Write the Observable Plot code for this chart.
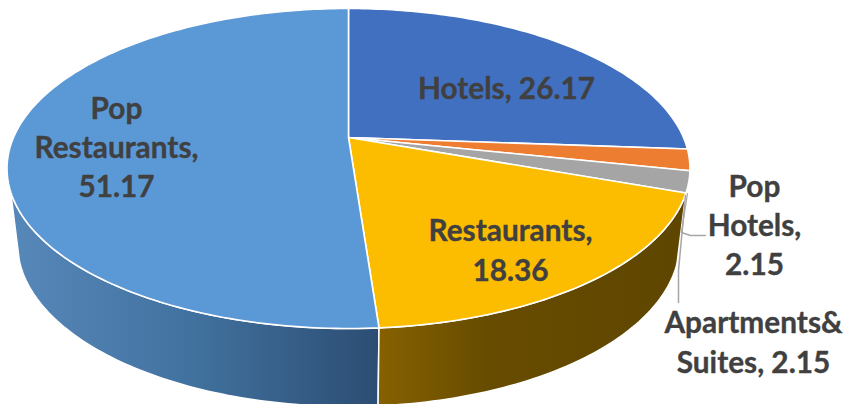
<!DOCTYPE html>
<html>
<head>
<meta charset="utf-8">
<script src="https://cdn.jsdelivr.net/npm/d3@7"></script>
<script src="https://cdn.jsdelivr.net/npm/@observablehq/plot@0.6"></script>
<style>html,body{margin:0;padding:0;background:#fff;overflow:hidden}svg{display:block}</style>
</head>
<body>
<div id="chart"></div>
<script>
const categories = ["Hotels", "Pop Hotels", "Apartments& Suites", "Restaurants", "Pop Restaurants"];
const values = [26.17, 2.15, 2.15, 18.36, 51.17];
const colors = ["#4270c0", "#ed7d31", "#a5a5a5", "#fcbd00", "#5b98d6"];
const labelTexts = ["Hotels, 26.17", "Pop\nHotels,\n2.15", "Apartments&\nSuites, 2.15", "Restaurants,\n18.36", "Pop\nRestaurants,\n51.17"];
const labelX = [506, 754, 753, 510, 116];
const labelY = [86, 223, 340, 248, 145];

// Perspective disc: top face and bottom rim of the tilted pie.
const CX = 348, K = 0.1938;
const topRim = {A: 335, B: 154, Y: 137};
const botRim = {A: 324.7, B: 156.8, Y: 211.5};
const pt = (rim, deg) => {
  const t = deg * Math.PI / 180, u = Math.sin(t), v = -Math.cos(t), w = 1 - K * v;
  return {x: CX + rim.A * u / w, y: rim.Y + rim.B * v / w};
};
const arc = (rim, a, b) => {
  const n = Math.max(2, Math.ceil(Math.abs(b - a))), out = [];
  for (let i = 0; i <= n; ++i) out.push(pt(rim, a + (b - a) * i / n));
  return out;
};
const total = d3.sum(values);
const cum = d3.cumsum(values).map(v => v / total * 360);
const starts = [0, ...cum.slice(0, -1)];

const faces = categories.map((name, i) => {
  const a = arc(topRim, starts[i], cum[i]);
  const c = {x: CX, y: topRim.Y};
  return {name, fill: colors[i], pts: [c, ...a, c]};
});

// Visible walls: Restaurants (front right) and Pop Restaurants (front left)
const iR = 3, iP = 4;
const wallRight = [...arc(topRim, starts[iR], cum[iR]), ...arc(botRim, cum[iR], 108)];
wallRight.push(wallRight[0]);
const wallLeft = [...arc(topRim, starts[iP], 250.7), ...arc(botRim, 253, starts[iP])];
wallLeft.push(wallLeft[0]);

const leaderHotels = [{x: 681, y: 232}, {x: 690, y: 235}, {x: 705, y: 235}];
const leaderHotels2 = [{x: 687, y: 193}, {x: 681, y: 232}];
const leaderApts = [{x: 685, y: 195}, {x: 678, y: 270}, {x: 678, y: 302}];

const defs = () => {
  const d = d3.create("svg:defs");
  const g = (id, stops) => {
    const lg = d.append("linearGradient").attr("id", id);
    stops.forEach(([o, c]) => lg.append("stop").attr("offset", o).attr("stop-color", c));
  };
  g("wallBlue", [[0, "#5788ba"], [0.5, "#41719e"], [1, "#2c4d73"]]);
  g("wallGold", [[0, "#866100"], [0.35, "#674c00"], [1, "#5f4600"]]);
  return d.node();
};

const chart = Plot.plot({
  width: 846,
  height: 404,
  margin: 0,
  x: {domain: [0, 846], range: [0, 846], axis: null},
  y: {domain: [0, 404], range: [0, 404], axis: null},
  marks: [
    defs,
    Plot.line(wallLeft, {x: "x", y: "y", fill: "url(#wallBlue)", stroke: "#fff", strokeWidth: 1.5}),
    Plot.line(wallRight, {x: "x", y: "y", fill: "url(#wallGold)", stroke: "#fff", strokeWidth: 1.5}),
    ...faces.map(f => Plot.line(f.pts, {x: "x", y: "y", fill: f.fill, stroke: "#fff", strokeWidth: 1.6, strokeLinejoin: "round"})),
    Plot.line(leaderHotels2, {x: "x", y: "y", stroke: "#a6a6a6", strokeWidth: 1.2}),
    Plot.line(leaderHotels, {x: "x", y: "y", stroke: "#a6a6a6", strokeWidth: 1.5}),
    Plot.line(leaderApts, {x: "x", y: "y", stroke: "#a6a6a6", strokeWidth: 1.5}),
    Plot.text(labelTexts, {
      x: (d, i) => labelX[i],
      y: (d, i) => labelY[i],
      text: d => d,
      fontFamily: "Lato, sans-serif",
      fontWeight: 700,
      fontSize: 29.8,
      lineHeight: 1.31,
      fill: "#404040",
      stroke: "#404040",
      strokeWidth: 0.35,
      textAnchor: "middle",
      lineAnchor: "middle"
    })
  ]
});
document.getElementById("chart").append(chart);
</script>
</body>
</html>
